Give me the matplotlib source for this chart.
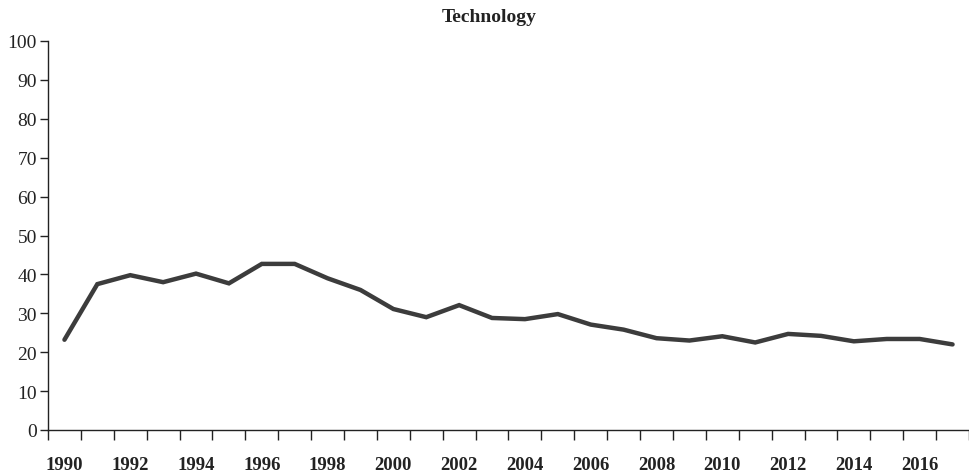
import matplotlib
matplotlib.use("Agg")
import matplotlib.pyplot as plt
import numpy as np

years = list(range(1990, 2018))
values = [23.2, 37.5, 39.8, 38.0, 40.2, 37.7, 42.7, 42.7, 39.0, 36.0,
          31.1, 29.0, 32.1, 28.8, 28.5, 29.8, 27.1, 25.8, 23.6, 23.0,
          24.1, 22.5, 24.7, 24.2, 22.8, 23.4, 23.4, 22.0]
yticks = list(range(0, 101, 10))
xlabels = [str(y) for y in years if y % 2 == 0]
title = "Technology"

plt.rcParams['font.family'] = ['Liberation Serif', 'DejaVu Serif']

fig = plt.figure(figsize=(9.7, 4.77), dpi=100)
ax = fig.add_axes([48/970, 1-431/477, (969-48)/970, (431-42)/477])

x = np.arange(len(years))
ax.plot(x, values, color='#3c3c3c', lw=3.2, solid_capstyle='round', solid_joinstyle='miter')

ax.set_ylim(0, 100)
ax.set_xlim(-0.5, len(years) - 0.5)
ax.set_yticks(yticks)
ax.set_yticklabels([str(v) for v in yticks], fontsize=14, color='#222222')
ax.tick_params(axis='y', direction='out', length=6, width=1, pad=2, colors='#222222')

major_pos = [i for i, y in enumerate(years) if y % 2 == 0]
ax.set_xticks(major_pos)
ax.set_xticklabels(xlabels, fontsize=13.5, fontweight='bold', color='#222222')
ax.tick_params(axis='x', which='major', length=0, pad=19)
ax.set_xticks(np.arange(-0.5, len(years)), minor=True)
ax.tick_params(axis='x', which='minor', direction='out', length=7, width=1, color='#222222')

for s in ['top', 'right']:
    ax.spines[s].set_visible(False)
for s in ['left', 'bottom']:
    ax.spines[s].set_color('#222222')
    ax.spines[s].set_linewidth(1)

fig.text(0.504, 1-18/477, title, ha='center', va='center', fontsize=14, fontweight='bold', color='#222222')

fig.savefig('out.png', dpi=100)
